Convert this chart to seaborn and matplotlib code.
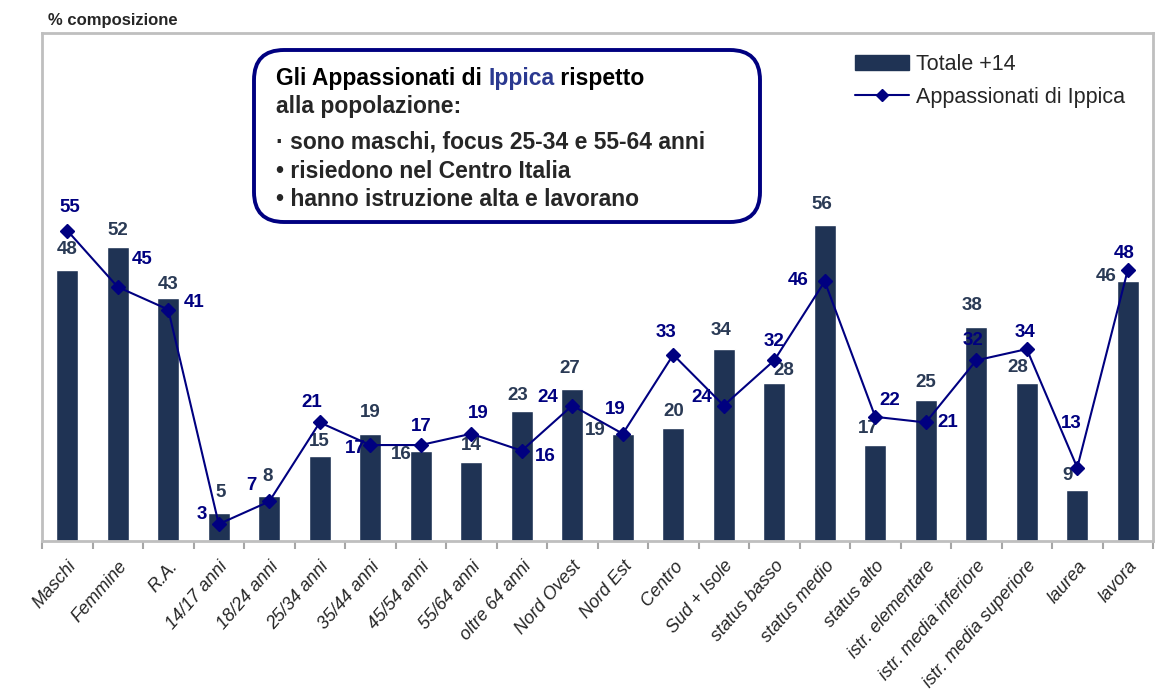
import matplotlib
matplotlib.use('Agg')
import matplotlib.pyplot as plt
import seaborn as sns
from matplotlib.patches import FancyBboxPatch
from matplotlib.lines import Line2D
from matplotlib.patches import Patch
from matplotlib.transforms import IdentityTransform

categorie = ['Maschi', 'Femmine', 'R.A.', '14/17 anni', '18/24 anni', '25/34 anni',
             '35/44 anni', '45/54 anni', '55/64 anni', 'oltre 64 anni', 'Nord Ovest',
             'Nord Est', 'Centro', 'Sud + Isole', 'status basso', 'status medio',
             'status alto', 'istr. elementare', 'istr. media inferiore',
             'istr. media superiore', 'laurea', 'lavora']
totale = [48, 52, 43, 5, 8, 15, 19, 16, 14, 23, 27, 19, 20, 34, 28, 56, 17, 25, 38, 28, 9, 46]
ippica = [55, 45, 41, 3, 7, 21, 17, 17, 19, 16, 24, 19, 33, 24, 32, 46, 22, 21, 32, 34, 13, 48]

# spostamenti etichette (pixel)
off_tot = [(0, 21), (0, 17), (0, 14), (2, 20), (-2, 19), (0, 15), (0, 21), (-20, -4),
           (0, 16), (-4, 16), (-3, 20), (-28, 3), (0, 17), (-3, 19), (10, 12), (-3, 20),
           (-7, 17), (0, 17), (-4, 21), (-9, 15), (-10, 15), (-22, 5)]
off_ipp = [(3, 23), (24, 27), (26, 7), (-17, 10), (-18, 16), (-8, 20), (-15, -3), (0, 19),
           (7, 20), (23, -6), (-24, 8), (-7, 24), (-7, 22), (-22, 8), (0, 19), (-27, 1),
           (15, 16), (22, 0), (-3, 20), (-2, 17), (-6, 44), (-4, 17)]

col_bar = '#1F3354'
col_lab = '#2A3A55'
navy = '#000080'

sns.set_style('white')
plt.rcParams['font.family'] = ['Liberation Sans', 'DejaVu Sans']

fig = plt.figure(figsize=(11.7, 6.97), dpi=100)
ax = fig.add_axes([42 / 1170, 1 - 541 / 697, 1111 / 1170, 508 / 697])

sns.barplot(x=categorie, y=totale, color=col_bar, width=0.44, saturation=1, ax=ax)
xs = list(range(len(categorie)))
ax.plot(xs, ippica, color=navy, lw=1.5, marker='D', markersize=7, zorder=5)

for i in xs:
    ax.annotate(str(totale[i]), (i, totale[i]), xytext=off_tot[i], textcoords='offset pixels',
                ha='center', va='center', fontsize=13.5, fontweight='bold', color=col_lab)
    ax.annotate(str(ippica[i]), (i, ippica[i]), xytext=off_ipp[i], textcoords='offset pixels',
                ha='center', va='center', fontsize=13.5, fontweight='bold', color=navy)

ax.set_xlim(-0.5, len(categorie) - 0.5)
ax.set_ylim(0, 90)
ax.set_yticks([])
ax.set_ylabel('')
for s in ax.spines.values():
    s.set_color('#BFBFBF')
    s.set_linewidth(2)
ax.set_xticks(xs)
ax.set_xticklabels(categorie, rotation=49, ha='right', rotation_mode='anchor',
                   fontsize=13, fontstyle='italic')
ax.set_xticks([i + 0.5 for i in range(-1, len(categorie))], minor=True)
ax.tick_params(axis='x', which='major', length=0, pad=12)
ax.tick_params(axis='x', which='minor', length=6, width=1.5, color='#A6A6A6', bottom=True)

fig.text(48 / 1170, 1 - 20 / 697, '% composizione', fontsize=12, fontweight='bold', va='center')

# riquadro
box = FancyBboxPatch((254, 697 - 222), 506, 172, boxstyle='round,pad=0,rounding_size=30',
                     transform=IdentityTransform(), fill=True, facecolor='white',
                     edgecolor=navy, lw=2.8, zorder=6)
fig.patches.append(box)

fs = 16.5
fig.canvas.draw()
r = fig.canvas.get_renderer()
x0 = 276
pezzi = [('Gli Appassionati di ', 'black'), ('Ippica', '#2B3990'), (' rispetto', 'black')]
x = x0
for testo, c in pezzi:
    t = fig.text(x / 1170, 1 - 85 / 697, testo, fontsize=fs, fontweight='bold', color=c,
                 va='baseline', ha='left', zorder=7)
    x = t.get_window_extent(r).x1
righe = [('alla popolazione:', 113), ('· sono maschi, focus 25-34 e 55-64 anni', 149),
         ('• risiedono nel Centro Italia', 178), ('• hanno istruzione alta e lavorano', 206)]
for testo, y in righe:
    fig.text(x0 / 1170, 1 - y / 697, testo, fontsize=fs, fontweight='bold', va='baseline', zorder=7)

handles = [Patch(facecolor=col_bar, edgecolor=col_bar, label='Totale +14'),
           Line2D([0], [0], color=navy, lw=1.5, marker='D', markersize=6, label='Appassionati di Ippica')]
ax.legend(handles=handles, loc='upper right', bbox_to_anchor=(0.992, 0.997), frameon=False,
          fontsize=15.5, handlelength=2.5, labelspacing=0.55, handletextpad=0.3)

fig.savefig('out.png', dpi=100)
